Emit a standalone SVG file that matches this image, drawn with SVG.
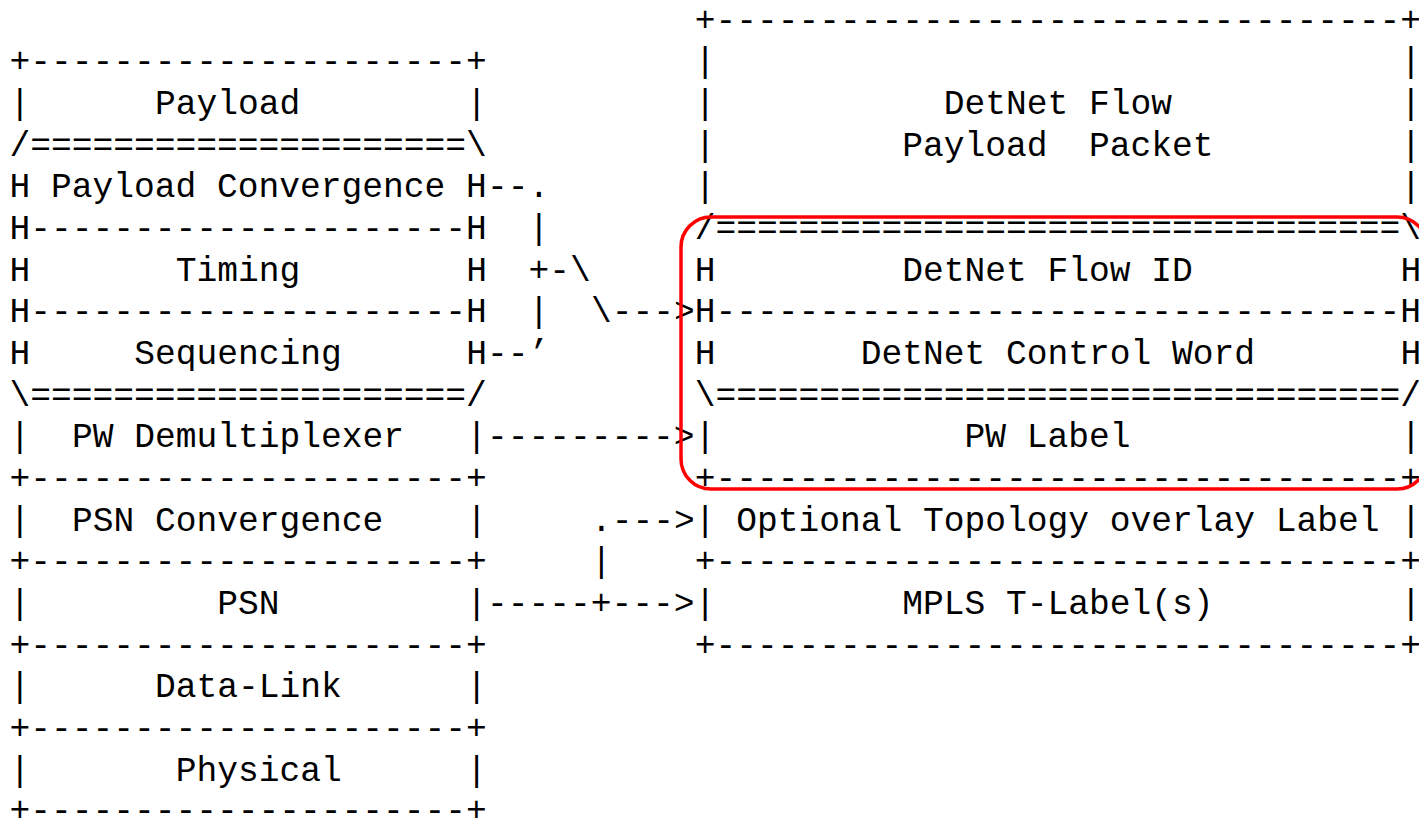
<svg xmlns="http://www.w3.org/2000/svg" width="1419" height="818" viewBox="0 0 1419 818" xml:space="preserve">
  <style>
    .t { font-family: "Liberation Mono", "DejaVu Sans Mono", monospace; font-size: 34.6px; fill: #000; white-space: pre; }
    .mark { fill: none; stroke: #ff0000; stroke-width: 3.5; }
  </style>
  <rect width="1419" height="818" fill="#fff"/>

  <!-- Left protocol stack (column pitch 20.76px, row pitch 41.65px) -->
  <g id="l-payload">
    <text class="t" x="9.6" y="72.45">+---------------------+</text>
    <text class="t" x="9.6" y="114.1">|</text><text class="t" x="154.92" y="114.1">Payload</text><text class="t" x="466.32" y="114.1">|</text>
  </g>
  <g id="l-payload-convergence">
    <text class="t" x="9.6" y="155.75">/=====================\</text>
    <text class="t" x="9.6" y="197.4">H Payload Convergence H</text>
    <text class="t" x="9.6" y="239.05">H---------------------H</text>
  </g>
  <g id="l-timing">
    <text class="t" x="9.6" y="280.7">H</text><text class="t" x="175.68" y="280.7">Timing</text><text class="t" x="466.32" y="280.7">H</text>
    <text class="t" x="9.6" y="322.35">H---------------------H</text>
  </g>
  <g id="l-sequencing">
    <text class="t" x="9.6" y="364">H</text><text class="t" x="134.16" y="364">Sequencing</text><text class="t" x="466.32" y="364">H</text>
    <text class="t" x="9.6" y="405.65">\=====================/</text>
  </g>
  <g id="l-pw-demultiplexer">
    <text class="t" x="9.6" y="447.3">|</text><text class="t" x="71.88" y="447.3">PW Demultiplexer</text><text class="t" x="466.32" y="447.3">|</text>
    <text class="t" x="9.6" y="488.95">+---------------------+</text>
  </g>
  <g id="l-psn-convergence">
    <text class="t" x="9.6" y="530.6">|</text><text class="t" x="71.88" y="530.6">PSN Convergence</text><text class="t" x="466.32" y="530.6">|</text>
    <text class="t" x="9.6" y="572.25">+---------------------+</text>
  </g>
  <g id="l-psn">
    <text class="t" x="9.6" y="613.9">|</text><text class="t" x="217.2" y="613.9">PSN</text><text class="t" x="466.32" y="613.9">|</text>
    <text class="t" x="9.6" y="655.55">+---------------------+</text>
  </g>
  <g id="l-data-link">
    <text class="t" x="9.6" y="697.2">|</text><text class="t" x="154.92" y="697.2">Data-Link</text><text class="t" x="466.32" y="697.2">|</text>
    <text class="t" x="9.6" y="738.85">+---------------------+</text>
  </g>
  <g id="l-physical">
    <text class="t" x="9.6" y="780.5">|</text><text class="t" x="175.68" y="780.5">Physical</text><text class="t" x="466.32" y="780.5">|</text>
    <text class="t" x="9.6" y="821">+---------------------+</text>
  </g>

  <!-- Right packet format -->
  <g id="r-payload-packet">
    <text class="t" x="694.68" y="30.8">+---------------------------------+</text>
    <text class="t" x="694.68" y="72.45">|</text><text class="t" x="1400.52" y="72.45">|</text>
    <text class="t" x="694.68" y="114.1">|</text><text class="t" x="943.8" y="114.1">DetNet Flow</text><text class="t" x="1400.52" y="114.1">|</text>
    <text class="t" x="694.68" y="155.75">|</text><text class="t" x="902.28" y="155.75">Payload  Packet</text><text class="t" x="1400.52" y="155.75">|</text>
    <text class="t" x="694.68" y="197.4">|</text><text class="t" x="1400.52" y="197.4">|</text>
  </g>
  <g id="r-flow-id">
    <text class="t" x="694.68" y="239.05">/=================================\</text>
    <text class="t" x="694.68" y="280.7">H</text><text class="t" x="902.28" y="280.7">DetNet Flow ID</text><text class="t" x="1400.52" y="280.7">H</text>
  </g>
  <g id="r-control-word">
    <text class="t" x="694.68" y="322.35">H---------------------------------H</text>
    <text class="t" x="694.68" y="364">H</text><text class="t" x="860.76" y="364">DetNet Control Word</text><text class="t" x="1400.52" y="364">H</text>
    <text class="t" x="694.68" y="405.65">\=================================/</text>
  </g>
  <g id="r-pw-label">
    <text class="t" x="694.68" y="447.3">|</text><text class="t" x="964.56" y="447.3">PW Label</text><text class="t" x="1400.52" y="447.3">|</text>
    <text class="t" x="694.68" y="488.95">+---------------------------------+</text>
  </g>
  <g id="r-topology-label">
    <text class="t" x="694.68" y="530.6">|</text><text class="t" x="736.2" y="530.6">Optional Topology overlay Label</text><text class="t" x="1400.52" y="530.6">|</text>
    <text class="t" x="694.68" y="572.25">+---------------------------------+</text>
  </g>
  <g id="r-t-label">
    <text class="t" x="694.68" y="613.9">|</text><text class="t" x="902.28" y="613.9">MPLS T-Label(s)</text><text class="t" x="1400.52" y="613.9">|</text>
    <text class="t" x="694.68" y="655.55">+---------------------------------+</text>
  </g>

  <!-- Mapping arrows between the stack and the packet fields -->
  <g id="connectors">
    <text class="t" x="487.08" y="197.4">--.</text>
    <text class="t" x="528.6" y="239.05">|</text>
    <text class="t" x="528.6" y="280.7">+-\</text>
    <text class="t" x="528.6" y="322.35">|</text><text class="t" x="590.88" y="322.35">\---&gt;</text>
    <text class="t" x="487.08" y="364">--’</text>
    <text class="t" x="487.08" y="447.3">---------&gt;</text>
    <text class="t" x="590.88" y="530.6">.---&gt;</text>
    <text class="t" x="590.88" y="572.25">|</text>
    <text class="t" x="487.08" y="613.9">-----+---&gt;</text>
  </g>

  <!-- Highlight around the DetNet-specific fields -->
  <g id="highlight">
    <rect class="mark" x="681" y="217" width="746" height="272" rx="30" ry="30"/>
  </g>
</svg>
